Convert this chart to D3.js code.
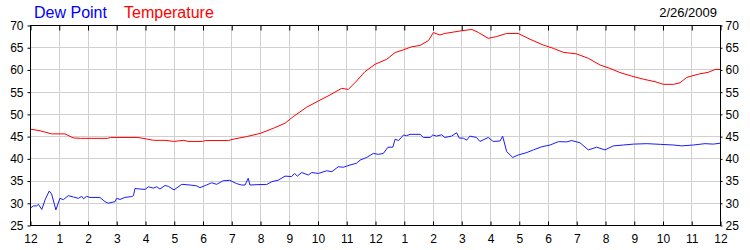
<html>
<head>
  <script src="https://d3js.org/d3.v7.min.js"></script>
  <style>
  body { margin: 0; background: #fff; }
  svg { font-family: "Liberation Sans", Arial, sans-serif; }
  .axis text { font-size: 12px; fill: #000; }
  .axis path { display: none; }
  .axis line { stroke: #000; }
  </style>
</head>
<body>
<svg width="750" height="250"></svg>

<script>
// hour of day (0 = midnight) and readings in degrees F
var tempHours = [0,0.35,0.75,1.22,1.5,1.75,2.7,2.8,3.75,4.06,4.3,4.7,5.0,5.35,5.5,6.0,6.1,6.9,7.06,7.54,
  8.0,8.46,8.87,9.16,9.62,10.03,10.43,10.84,11.07,11.36,11.65,12.0,12.41,12.7,12.98,13.28,13.57,13.86,
  14.03,14.26,14.43,14.72,15.01,15.37,15.6,15.94,16.23,16.58,16.98,17.39,17.85,18.2,18.55,19.01,19.42,
  19.83,20.17,20.52,20.93,21.34,21.74,22.03,22.38,22.61,22.84,23.25,23.59,23.83,24];
var tempValues = [46.6,46.2,45.5,45.5,44.6,44.5,44.5,44.7,44.7,44.35,44.05,44.05,43.8,44.05,43.8,43.8,44.0,44.0,44.3,44.9,
  45.6,46.75,47.9,49.4,51.5,52.9,54.25,55.75,55.5,57.4,59.5,61.15,62.3,63.8,64.4,65.1,65.4,66.5,
  68.3,67.75,68.1,68.4,68.7,69.0,68.3,67.0,67.4,68.1,68.1,66.8,65.5,64.75,63.85,63.5,62.5,
  61.0,60.25,59.3,58.5,57.8,57.25,56.65,56.65,57.0,58.2,58.95,59.35,60.0,60.0];

var dewHours = [0,0.12,0.23,0.29,0.41,0.52,0.67,0.75,0.9,1.04,1.16,1.33,1.51,1.68,1.8,1.86,1.97,2.09,2.43,2.61,
  2.72,2.96,3.01,3.13,3.3,3.54,3.6,3.65,4.0,4.12,4.29,4.41,4.52,4.7,4.81,5.01,5.28,5.57,5.8,5.91,
  6.14,6.32,6.49,6.72,6.95,7.19,7.36,7.48,7.59,7.65,8.0,8.23,8.41,8.64,8.87,9.1,9.2,9.3,9.45,9.68,
  9.8,10.03,10.32,10.5,10.72,10.9,11.13,11.36,11.48,11.71,11.94,12.12,12.29,12.45,12.62,12.7,12.82,12.99,
  13.1,13.22,13.57,13.68,13.92,14.01,14.14,14.32,14.43,14.66,14.84,14.93,15.07,15.19,15.3,15.53,15.65,
  15.94,16.11,16.35,16.44,16.58,16.79,16.98,17.28,17.51,17.8,18.09,18.38,18.67,18.84,19.13,19.42,19.71,
  20.0,20.29,20.64,20.99,21.45,21.92,22.38,22.67,23.07,23.48,23.77,24];
var dewValues = [28.75,29.3,29.3,29.65,28.5,30.6,32.65,32.0,28.4,31.0,30.7,31.6,31.3,31.0,31.45,30.9,31.45,31.2,31.2,30.25,
  29.9,30.25,31.0,30.75,31.2,31.4,31.6,33.2,33.0,33.6,33.3,33.6,33.1,33.9,33.7,32.9,34.15,34.0,33.8,33.4,
  34.0,34.5,34.15,34.95,35.05,34.3,34.0,34.0,35.5,34.0,34.1,34.1,34.75,35.1,36.0,35.9,36.6,36.0,36.8,36.25,
  36.8,36.6,37.2,37.0,38.1,38.0,38.5,38.9,39.6,40.2,41.1,40.9,41.1,42.5,42.5,44.3,44.0,45.25,
  45.1,45.4,45.4,44.7,44.7,45.25,45.0,45.3,44.7,45.0,45.75,44.55,44.55,44.1,45.0,44.7,43.8,
  44.7,43.8,43.9,45.0,41.5,40.2,40.75,41.3,41.9,42.6,43.0,43.75,43.7,44.0,43.5,41.9,42.5,
  41.9,42.8,43.0,43.2,43.3,43.15,43.0,42.8,43.0,43.3,43.2,43.4];

var hourLabels = ["12","1","2","3","4","5","6","7","8","9","10","11",
  "12","1","2","3","4","5","6","7","8","9","10","11","12"];
var yTicks = [25,30,35,40,45,50,55,60,65,70];
var dateLabel = "2/26/2009";

var svg = d3.select("svg");
// plot box (note: "top" is reserved on window, so use pTop/pBottom)
var pLeft = 30, pRight = 720, pTop = 25, pBottom = 225;

var x = d3.scaleLinear().domain([0, 24]).range([pLeft, pRight]);
var y = d3.scaleLinear().domain([25, 70]).range([pBottom, pTop]);
var hourTicks = d3.range(0, 25);

// grid
svg.append("g").selectAll("line").data(hourTicks).enter().append("line")
  .attr("x1", function(d){ return Math.round(x(d)) + 0.5; })
  .attr("x2", function(d){ return Math.round(x(d)) + 0.5; })
  .attr("y1", pTop).attr("y2", pBottom)
  .attr("stroke", "#d0d0d0");
svg.append("g").selectAll("line").data(yTicks).enter().append("line")
  .attr("x1", pLeft).attr("x2", pRight)
  .attr("y1", function(d){ return Math.round(y(d)) + 0.5; })
  .attr("y2", function(d){ return Math.round(y(d)) + 0.5; })
  .attr("stroke", "#d0d0d0");

// series
var line = d3.line()
  .x(function(d){ return x(d[0]); })
  .y(function(d){ return y(d[1]); });

svg.append("path")
  .datum(tempHours.map(function(h, i){ return [h, tempValues[i]]; }))
  .attr("d", line).attr("fill", "none").attr("stroke", "#ff0000").attr("stroke-width", 1);
svg.append("path")
  .datum(dewHours.map(function(h, i){ return [h, dewValues[i]]; }))
  .attr("d", line).attr("fill", "none").attr("stroke", "#1a1aff").attr("stroke-width", 1);

// axes
svg.append("g").attr("class", "axis")
  .attr("transform", "translate(0.5," + (pBottom + 0.5) + ")")
  .call(d3.axisBottom(x).tickValues(hourTicks).tickFormat(function(d){ return hourLabels[d]; })
    .tickSizeInner(-4).tickSizeOuter(0).tickPadding(9));
svg.append("g").attr("class", "axis")
  .attr("transform", "translate(0.5," + (pTop + 0.5) + ")")
  .call(d3.axisTop(x).tickValues(hourTicks).tickFormat("").tickSizeInner(-5).tickSizeOuter(0));
svg.append("g").attr("class", "axis")
  .attr("transform", "translate(" + (pLeft + 0.5) + ",0.5)")
  .call(d3.axisLeft(y).tickValues(yTicks).tickSizeInner(3).tickSizeOuter(0).tickPadding(4));
svg.append("g").attr("class", "axis")
  .attr("transform", "translate(" + (pRight + 0.5) + ",0.5)")
  .call(d3.axisRight(y).tickValues(yTicks).tickSizeInner(2).tickSizeOuter(0).tickPadding(3));

// frame
svg.append("rect")
  .attr("x", pLeft + 0.5).attr("y", pTop + 0.5)
  .attr("width", pRight - pLeft).attr("height", pBottom - pTop)
  .attr("fill", "none").attr("stroke", "#000");

// legend and date
svg.append("text").attr("x", 34).attr("y", 18)
  .attr("font-size", "16px").attr("fill", "#0000ff").text("Dew Point");
svg.append("text").attr("x", 124).attr("y", 18)
  .attr("font-size", "16px").attr("fill", "#ff0000").text("Temperature");
svg.append("text").attr("x", 717).attr("y", 17).attr("text-anchor", "end")
  .attr("font-size", "13px").attr("fill", "#000").text(dateLabel);
</script>
</body>
</html>
